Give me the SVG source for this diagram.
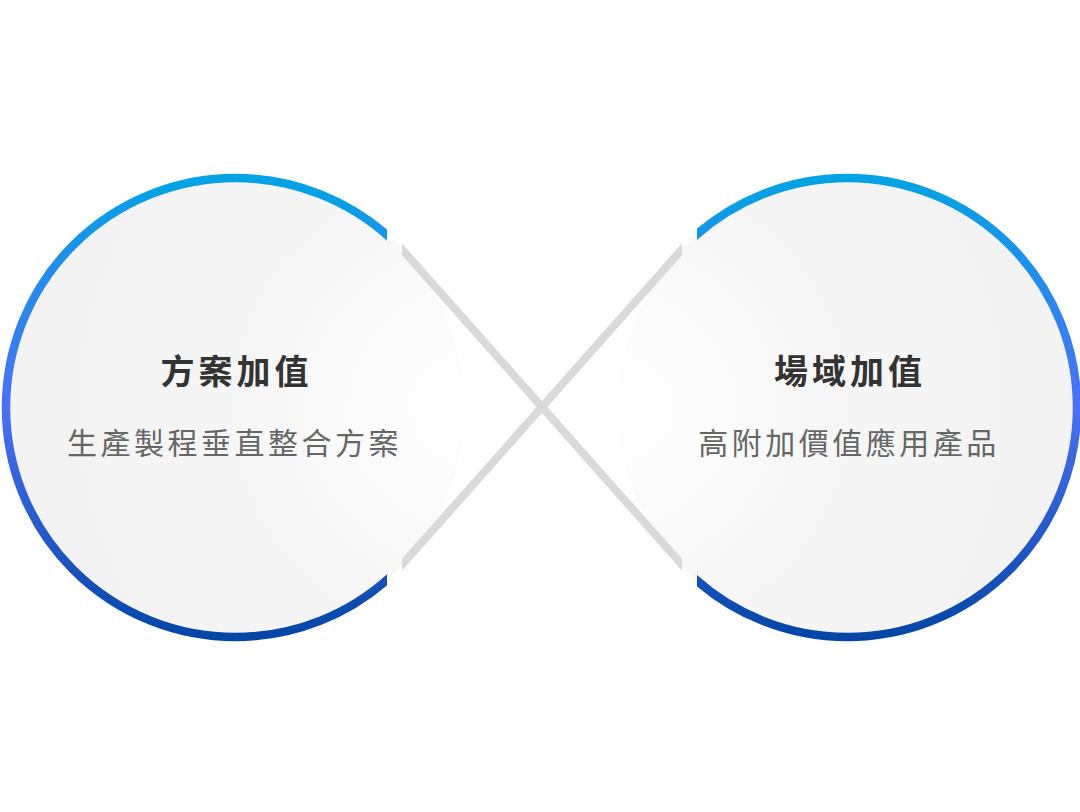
<svg xmlns="http://www.w3.org/2000/svg" width="1080" height="812" viewBox="0 0 1080 812">
  <style>
    .title { font-family: "Noto Sans CJK TC", "Noto Sans CJK SC", sans-serif; font-size: 34px; font-weight: 700; fill: #333333; letter-spacing: 4px; text-anchor: middle; }
    .sub { font-family: "Noto Sans CJK TC", "Noto Sans CJK SC", sans-serif; font-size: 30px; font-weight: 400; fill: #666666; letter-spacing: 3.5px; text-anchor: middle; }
    .ring { fill: none; stroke: url(#ringGrad); stroke-width: 8.5; }
    .link { stroke: #d9d9d9; stroke-width: 8; fill: none; stroke-linecap: butt; }
  </style>
  <defs>
    <linearGradient id="ringGrad" x1="0" y1="0" x2="0" y2="1">
      <stop offset="0" stop-color="#03a3e4"/>
      <stop offset="0.5" stop-color="#4a70f8"/>
      <stop offset="1" stop-color="#0446a6"/>
    </linearGradient>
    <radialGradient id="fillLeft" cx="1" cy="0.5" r="0.85" fx="1" fy="0.5">
      <stop offset="0" stop-color="#ffffff"/>
      <stop offset="0.55" stop-color="#f6f6f7"/>
      <stop offset="1" stop-color="#f3f3f4"/>
    </radialGradient>
    <radialGradient id="fillRight" cx="0" cy="0.5" r="0.85" fx="0" fy="0.5">
      <stop offset="0" stop-color="#ffffff"/>
      <stop offset="0.55" stop-color="#f6f6f7"/>
      <stop offset="1" stop-color="#f3f3f4"/>
    </radialGradient>
    <clipPath id="clipRingLeft"><rect x="0" y="0" width="387" height="812"/></clipPath>
    <clipPath id="clipRingRight"><rect x="697" y="0" width="383" height="812"/></clipPath>
    <clipPath id="clipLinks"><rect x="402" y="0" width="280" height="812"/></clipPath>
  </defs>
  <rect x="0" y="0" width="1080" height="812" fill="#ffffff"/>

  <g id="node-left">
    <circle cx="235.5" cy="407.5" r="229.5" fill="url(#fillLeft)"/>
    <circle class="ring" cx="235.5" cy="407.5" r="229.5" clip-path="url(#clipRingLeft)"/>
  </g>

  <g id="node-right">
    <circle cx="847.5" cy="407.5" r="229.5" fill="url(#fillRight)"/>
    <circle class="ring" cx="847.5" cy="407.5" r="229.5" clip-path="url(#clipRingRight)"/>
  </g>

  <g id="connectors" clip-path="url(#clipLinks)">
    <line class="link" x1="392" y1="238" x2="692" y2="576"/>
    <line class="link" x1="392" y1="576" x2="692" y2="238"/>
  </g>

  <g id="labels-left">
    <text class="title" x="236.5" y="384">方案加值</text>
    <text class="sub" x="234.5" y="454">生產製程垂直整合方案</text>
  </g>
  <g id="labels-right">
    <text class="title" x="850" y="384">場域加值</text>
    <text class="sub" x="849" y="454">高附加價值應用產品</text>
  </g>
</svg>
